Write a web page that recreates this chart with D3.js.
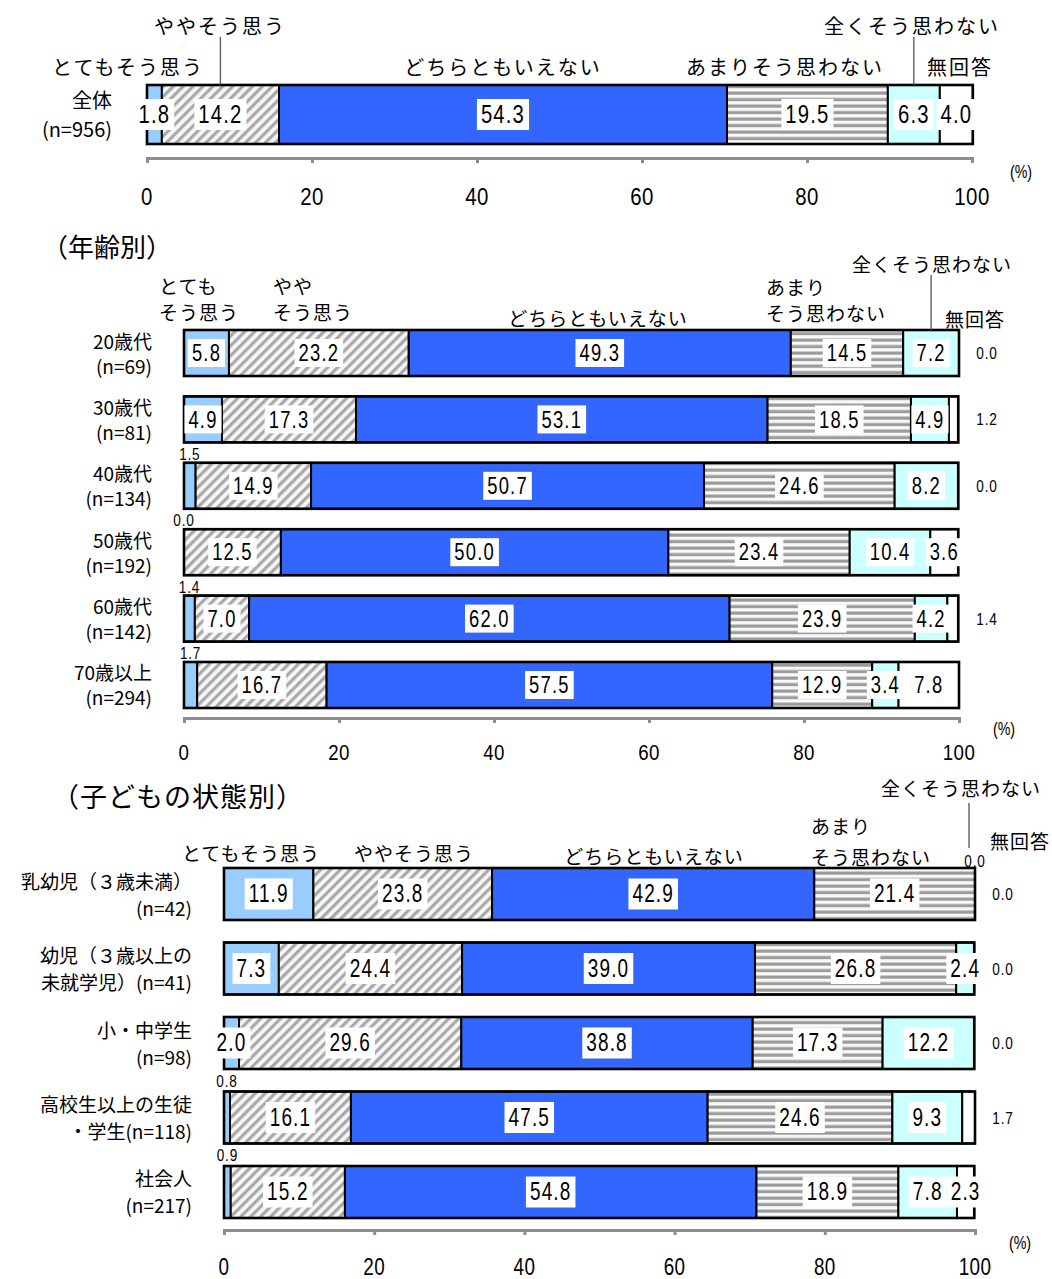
<!DOCTYPE html>
<html><head><meta charset="utf-8">
<script src="https://cdn.jsdelivr.net/npm/d3@7"></script>
<style>
body{margin:0;background:#fff}
text{font-family:"Noto Sans CJK JP","Noto Sans",sans-serif;fill:#000}
</style>
</head><body>
<svg id="chart" width="1052" height="1279"></svg>
<script>
// ---------- data ----------
const seriesNames = ["とてもそう思う","ややそう思う","どちらともいえない","あまりそう思わない","全くそう思わない","無回答"];
const overallLabels = [["全体","(n=956)"]];
const overallValues = [[1.8,14.2,54.3,19.5,6.3,4.0]];
const ageLabels = [["20歳代","(n=69)"],["30歳代","(n=81)"],["40歳代","(n=134)"],["50歳代","(n=192)"],["60歳代","(n=142)"],["70歳以上","(n=294)"]];
const ageValues = [
  [5.8,23.2,49.3,14.5,7.2,0.0],
  [4.9,17.3,53.1,18.5,4.9,1.2],
  [1.5,14.9,50.7,24.6,8.2,0.0],
  [0.0,12.5,50.0,23.4,10.4,3.6],
  [1.4,7.0,62.0,23.9,4.2,1.4],
  [1.7,16.7,57.5,12.9,3.4,7.8]
];
const childLabels = [["乳幼児（３歳未満）","(n=42)"],["幼児（３歳以上の","未就学児）(n=41)"],["小・中学生","(n=98)"],["高校生以上の生徒","・学生(n=118)"],["社会人","(n=217)"]];
const childValues = [
  [11.9,23.8,42.9,21.4,0.0,0.0],
  [7.3,24.4,39.0,26.8,2.4,0.0],
  [2.0,29.6,38.8,17.3,12.2,0.0],
  [0.8,16.1,47.5,24.6,9.3,1.7],
  [0.9,15.2,54.8,18.9,7.8,2.3]
];
const tickValues = [0,20,40,60,80,100];
const sectionTitles = ["（年齢別）","（子どもの状態別）"];

// ---------- setup ----------
const svg = d3.select("#chart");
const defs = svg.append("defs");
const diag = defs.append("pattern").attr("id","diag").attr("patternUnits","userSpaceOnUse")
  .attr("width",7).attr("height",7).attr("patternTransform","rotate(45)");
diag.append("rect").attr("width",7).attr("height",7).attr("fill","#f6f6f6");
diag.append("rect").attr("width",3.2).attr("height",7).attr("fill","#a9a9a9");
const horiz = defs.append("pattern").attr("id","horiz").attr("patternUnits","userSpaceOnUse")
  .attr("width",8).attr("height",6.5);
horiz.append("rect").attr("width",8).attr("height",6.5).attr("fill","#f8f8f8");
horiz.append("rect").attr("y",0.5).attr("width",8).attr("height",3.2).attr("fill","#9c9c9c");
const fills = ["#99ccff","url(#diag)","#3366ff","url(#horiz)","#ccffff","#ffffff"];
const fmt = d3.format(".1f");

function num(g, str, x, y, size, sx, ls){
  return g.append("text").attr("transform",`translate(${x},${y}) scale(${sx},1)`)
    .attr("text-anchor","middle").attr("dominant-baseline","central")
    .style("font-family","'Liberation Sans','Arimo','DejaVu Sans',sans-serif")
    .style("letter-spacing",(ls===undefined?1.5:ls)+"px")
    .style("font-size",size+"px").text(str);
}
function jp(g, str, x, y, size, anchor, ls){
  return g.append("text").attr("x",x).attr("y",y)
    .attr("text-anchor",anchor||"middle").attr("dominant-baseline","central")
    .style("font-size",size+"px").style("letter-spacing",(ls||0)+"px").text(str);
}

function panel(cfg){
  const g = svg.append("g");
  const x = d3.scaleLinear().domain([0,100]).range([cfg.x0,cfg.x1]);
  const y = d3.scaleBand().domain(d3.range(cfg.values.length)).range([cfg.top,cfg.bottom])
    .paddingInner(cfg.pad).paddingOuter(0);
  const bw = y.bandwidth();
  const mids = [];
  cfg.values.forEach((row,i)=>{
    let cum = 0;
    const segs = row.map((v,j)=>{const s={v,j,a:cum,b:cum+v}; cum+=v; return s;});
    if(i===0) segs.forEach(s=>mids.push(x((s.a+s.b)/2)));
    const y0 = y(i), cy = y0 + bw/2;
    const rg = g.append("g");
    rg.selectAll("rect.seg").data(segs.filter(s=>s.v>0)).join("rect").attr("class","seg")
      .attr("x",s=>x(s.a)).attr("width",s=>x(s.b)-x(s.a))
      .attr("y",y0).attr("height",bw).attr("fill",s=>fills[s.j])
      .attr("stroke","#000").attr("stroke-width",2);
    rg.append("rect").attr("x",x(0)).attr("y",y0).attr("width",x(cum)-x(0)).attr("height",bw)
      .attr("fill","none").attr("stroke","#000").attr("stroke-width",2.6);
    segs.forEach(s=>{
      const txt = fmt(s.v);
      if(s.j===0 && s.v<1.8){
        num(rg,txt,x(s.a+s.v/2),y0-cfg.aboveOff,cfg.smallSize,0.8,1);
      } else if(s.j===5 && s.v<2){
        num(rg,txt,x(100)+28,cy,cfg.smallSize,0.8,1);
      } else if(s.j===4 && s.v===0){
        num(rg,txt,x(s.a),y0-7,cfg.smallSize,0.8,1);
      } else {
        const t = num(rg,txt,x((s.a+s.b)/2),cy,cfg.valSize,cfg.valScale);
        const w = t.node().getComputedTextLength()*cfg.valScale + 2*cfg.pad2;
        rg.insert("rect","text").attr("x",x((s.a+s.b)/2)-w/2).attr("y",cy-cfg.boxH/2)
          .attr("width",w).attr("height",cfg.boxH).attr("fill","#fff");
      }
    });
    // category label
    jp(g,cfg.labels[i][0],cfg.catX,cy+cfg.catOff[0],cfg.catSize,"end");
    jp(g,cfg.labels[i][1],cfg.catX,cy+cfg.catOff[1],cfg.catSize,"end");
  });
  // axis
  const ax = g.append("g").attr("transform",`translate(0,${cfg.axisY})`)
    .call(d3.axisBottom(x).tickValues(tickValues).tickSize(5).tickSizeOuter(5).tickFormat(""));
  ax.selectAll("path,line").attr("stroke","#8c8c8c").attr("stroke-width",3);
  tickValues.forEach(t=>num(g,String(t),x(t),cfg.tickY,cfg.tickSize,cfg.tickScale,0.5));
  num(g,"(%)",cfg.pctX,cfg.pctY,19,0.75,0);
  // legend
  cfg.legend.forEach(L=>{
    L.lines.forEach((ln,k)=>jp(g,ln,L.x,L.y+k*cfg.legLine,cfg.legSize,L.anchor||"middle",cfg.legLs));
    if(L.leader!==undefined){
      const lx = L.leader==="end" ? cfg.leaderX : mids[L.leader];
      g.append("line").attr("x1",lx).attr("x2",lx).attr("y1",L.ly1).attr("y2",L.ly2)
        .attr("stroke","#555").attr("stroke-width",1.3);
    }
  });
}

// overall
panel({labels:overallLabels, values:overallValues, x0:147, x1:972, top:85, bottom:144, pad:0,
  valSize:26, valScale:0.78, pad2:4, boxH:31, smallSize:18, aboveOff:9,
  catX:112, catOff:[-15,14], catSize:20,
  axisY:158, tickY:197, tickSize:24, tickScale:0.85, pctX:1021, pctY:172,
  legSize:20, legLs:2, legLine:0,
  legend:[
    {lines:[seriesNames[0]], x:128, y:66},
    {lines:[seriesNames[1]], x:220, y:25, leader:1, ly1:37, ly2:85},
    {lines:[seriesNames[2]], x:503, y:66},
    {lines:[seriesNames[3]], x:785, y:66},
    {lines:[seriesNames[4]], x:912, y:25, leader:4, ly1:37, ly2:85},
    {lines:[seriesNames[5]], x:960, y:66}
  ]});

jp(svg,sectionTitles[0],42,245,26,"start");

panel({labels:ageLabels, values:ageValues, x0:184, x1:959, top:330, bottom:708, pad:0.307,
  valSize:23, valScale:0.8, pad2:4, boxH:28, smallSize:17, aboveOff:9,
  catX:152, catOff:[-13,12], catSize:19,
  axisY:718, tickY:752, tickSize:22, tickScale:0.85, pctX:1004, pctY:729,
  legSize:19, legLs:1, legLine:26,
  legend:[
    {lines:["とても","そう思う"], x:159, y:285, anchor:"start"},
    {lines:["やや","そう思う"], x:273, y:285, anchor:"start"},
    {lines:[seriesNames[2]], x:598, y:317},
    {lines:["あまり","そう思わない"], x:766, y:286, anchor:"start"},
    {lines:[seriesNames[4]], x:932, y:263, leader:4, ly1:275, ly2:330},
    {lines:[seriesNames[5]], x:975, y:318}
  ]});

jp(svg,sectionTitles[1],52,795,27,"start",1);

panel({labels:childLabels, values:childValues, x0:224, x1:975, top:868, bottom:1218, pad:0.302,
  valSize:25, valScale:0.76, pad2:4, boxH:31, smallSize:17, aboveOff:11,
  catX:192, catOff:[-14,13], catSize:19,
  axisY:1230, tickY:1267, tickSize:23, tickScale:0.82, pctX:1020, pctY:1243,
  legSize:19, legLs:1, legLine:31, leaderX:969,
  legend:[
    {lines:[seriesNames[0]], x:251, y:852},
    {lines:[seriesNames[1]], x:414, y:852},
    {lines:[seriesNames[2]], x:654, y:855},
    {lines:["あまり","そう思わない"], x:811, y:825, anchor:"start"},
    {lines:[seriesNames[4]], x:961, y:787, leader:"end", ly1:803, ly2:848},
    {lines:[seriesNames[5]], x:1020, y:840}
  ]});
</script>
</body></html>
